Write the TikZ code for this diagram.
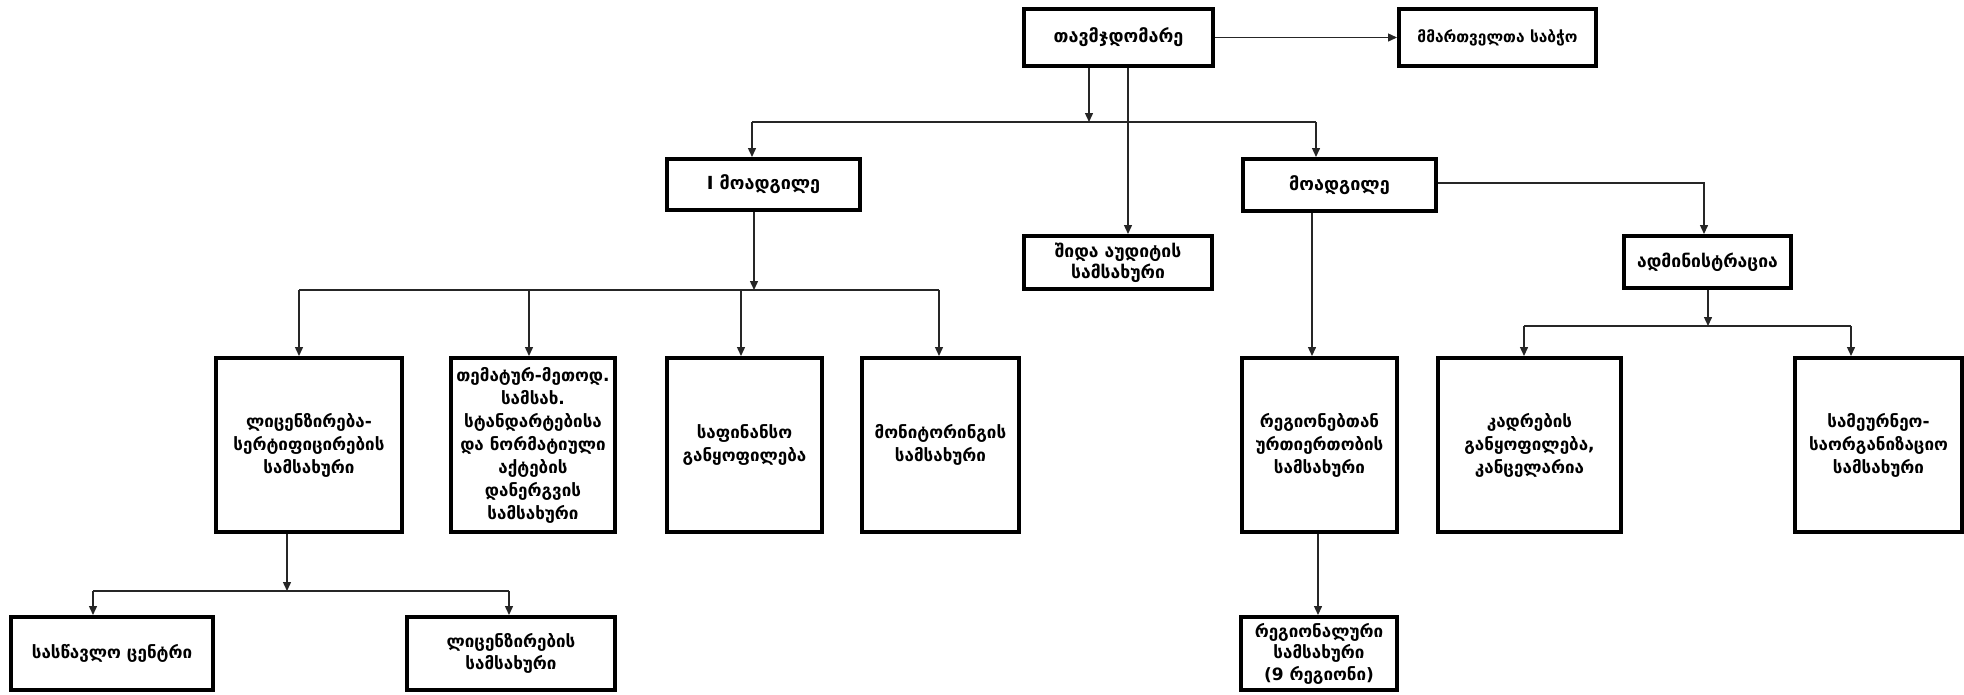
\documentclass[tikz,border=0pt]{standalone}
\usepackage{fontspec}
\setmainfont{DejaVu Sans}
\usetikzlibrary{arrows.meta}
\tikzset{
  box/.style={draw=black, line width=4pt, fill=white, align=center, inner sep=2pt},
  bigtext/.style={font=\bfseries\fontsize{18}{23}\selectfont},
  boardtext/.style={font=\bfseries\fontsize{15.5}{20}\selectfont},
  midtext/.style={font=\bfseries\fontsize{17.5}{21}\selectfont},
  rowtext/.style={font=\bfseries\fontsize{17}{23}\selectfont},
  bottext/.style={font=\bfseries\fontsize{17}{21.5}\selectfont},
  conn/.style={draw=black!85, line width=1.4pt},
  arr/.style={conn, -{Triangle[length=9pt,width=8pt]}},
}
\begin{document}
\begin{tikzpicture}[x=1pt,y=-1pt]
\useasboundingbox (0,0) rectangle (1964,694);
% boxes
\node[box,bigtext,minimum width=189pt,minimum height=57pt] (chair) at (1118.5,37.5) {თავმჯდომარე};
\node[box,boardtext,minimum width=197pt,minimum height=57pt] (board) at (1497.5,37.5) {მმართველთა საბჭო};
\node[box,bigtext,minimum width=193pt,minimum height=51pt] (dep1) at (763.5,184.5) {I მოადგილე};
\node[box,bigtext,minimum width=193pt,minimum height=52pt] (dep2) at (1339.5,185) {მოადგილე};
\node[box,midtext,minimum width=188pt,minimum height=53pt] (audit) at (1118,262.5) {შიდა აუდიტის\\სამსახური};
\node[box,midtext,minimum width=167pt,minimum height=52pt] (adm) at (1707.5,262) {ადმინისტრაცია};
% row 2
\node[box,rowtext,minimum width=186pt,minimum height=174pt] (lic) at (309,445) {ლიცენზირება-\\სერტიფიცირების\\სამსახური};
\node[box,rowtext,minimum width=164pt,minimum height=174pt] (them) at (533,445) {თემატურ-მეთოდ.\\სამსახ.\\სტანდარტებისა\\და ნორმატიული\\აქტების\\დანერგვის\\სამსახური};
\node[box,rowtext,minimum width=155pt,minimum height=174pt] (fin) at (744.5,445) {საფინანსო\\განყოფილება};
\node[box,rowtext,minimum width=157pt,minimum height=174pt] (mon) at (940.5,445) {მონიტორინგის\\სამსახური};
\node[box,rowtext,minimum width=155pt,minimum height=174pt] (reg) at (1319.5,445) {რეგიონებთან\\ურთიერთობის\\სამსახური};
\node[box,rowtext,minimum width=183pt,minimum height=174pt] (kadr) at (1529.5,445) {კადრების\\განყოფილება,\\კანცელარია};
\node[box,rowtext,minimum width=167pt,minimum height=174pt] (sam) at (1878.5,445) {სამეურნეო-\\საორგანიზაციო\\სამსახური};
% bottom row
\node[box,bottext,minimum width=202pt,minimum height=73pt] (stud) at (112,653.5) {სასწავლო ცენტრი};
\node[box,bottext,minimum width=208pt,minimum height=73pt] (lic2) at (511,653.5) {ლიცენზირების\\სამსახური};
\node[box,bottext,minimum width=156pt,minimum height=73pt] (regn) at (1319,653.5) {რეგიონალური\\სამსახური\\(9 რეგიონი)};
% junction coordinates
\coordinate (j0) at (1089,122);
\coordinate (j0l) at (752,122);
\coordinate (j0r) at (1316,122);
\coordinate (xa) at (1128,150);
\coordinate (j1) at (754,290);
\coordinate (j1l) at (299,290);
\coordinate (j1b) at (529,290);
\coordinate (j1c) at (741,290);
\coordinate (j1r) at (939,290);
\coordinate (j2) at (287,591);
\coordinate (j2l) at (93,591);
\coordinate (j2r) at (509,591);
\coordinate (xr) at (1312,300);
\coordinate (xr2) at (1318,580);
\coordinate (j3) at (1708,326);
\coordinate (j3l) at (1524,326);
\coordinate (j3r) at (1851,326);
\coordinate (xadm) at (1704,183);
% connectors
\draw[arr] (chair.east) -- (board.west);
\draw[arr] (chair.south -| j0) -- (j0);
\draw[conn] (j0l) -- (j0r);
\draw[arr] (j0l) -- (dep1.north -| j0l);
\draw[arr] (j0r) -- (dep2.north -| j0r);
\draw[arr] (chair.south -| xa) -- (audit.north -| xa);
\draw[arr] (dep2.east |- xadm) -- (xadm) -- (adm.north -| xadm);
\draw[arr] (adm.south -| j3) -- (j3);
\draw[conn] (j3l) -- (j3r);
\draw[arr] (j3l) -- (kadr.north -| j3l);
\draw[arr] (j3r) -- (sam.north -| j3r);
\draw[arr] (dep2.south -| xr) -- (reg.north -| xr);
\draw[arr] (dep1.south -| j1) -- (j1);
\draw[conn] (j1l) -- (j1r);
\draw[arr] (j1l) -- (lic.north -| j1l);
\draw[arr] (j1b) -- (them.north -| j1b);
\draw[arr] (j1c) -- (fin.north -| j1c);
\draw[arr] (j1r) -- (mon.north -| j1r);
\draw[arr] (lic.south -| j2) -- (j2);
\draw[conn] (j2l) -- (j2r);
\draw[arr] (j2l) -- (stud.north -| j2l);
\draw[arr] (j2r) -- (lic2.north -| j2r);
\draw[arr] (reg.south -| xr2) -- (regn.north -| xr2);
\end{tikzpicture}
\end{document}
